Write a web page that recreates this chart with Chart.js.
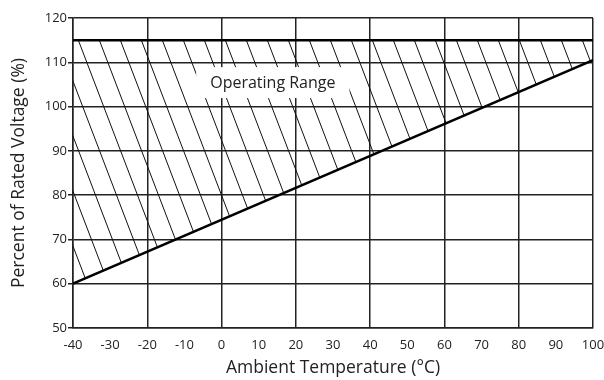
<!DOCTYPE html>
<html>
<head>
<meta charset="utf-8">
<script src="https://cdn.jsdelivr.net/npm/chart.js@4"></script>
<style>
  html, body { margin: 0; padding: 0; background: #fff; }
  #wrap { width: 604px; height: 380px; }
</style>
</head>
<body>
<div id="wrap"><canvas id="chart"></canvas></div>
<script>
// values
const temperatures = [-40, 100];      // °C, ends of both limits
const upperLimit = [115, 115];        // % rated voltage, max
const lowerLimit = [60, 110.5];       // % rated voltage, min
const xMin = -40, xMax = 100, xStep = 10, xGridStep = 20;
const yMin = 50, yMax = 120, yStep = 10;
const regionLabel = "Operating Range";

function toPoints(xs, ys) {
  return xs.map((x, i) => ({ x: x, y: ys[i] }));
}

// diagonal hatch pattern for the operating range
function makeHatch() {
  let c = document.createElement("canvas");
  c.width = 21;
  c.height = 55;
  let g = c.getContext("2d");
  g.strokeStyle = "#111";
  g.lineWidth = 1;
  g.beginPath();
  for (let k = -1; k <= 1; k++) {
    g.moveTo(k * 21, 0);
    g.lineTo(k * 21 + 21, 55);
  }
  g.stroke();
  return g.createPattern(c, "repeat");
}

// white box with the region name on top of the hatching
const labelPlugin = {
  id: "regionLabel",
  afterDatasetsDraw(chart) {
    let ctx = chart.ctx;
    let cx = chart.scales.x.getPixelForValue(13.8);
    let cy = chart.scales.y.getPixelForValue(105.3);
    ctx.save();
    ctx.font = "16px 'Open Sans'";
    let w = ctx.measureText(regionLabel).width;
    ctx.fillStyle = "#fff";
    ctx.fillRect(cx - w / 2 - 14, cy - 16, w + 28, 31);
    ctx.fillStyle = "#222";
    ctx.textAlign = "center";
    ctx.textBaseline = "middle";
    ctx.fillText(regionLabel, cx, cy);
    ctx.restore();
  },
};

let ctx = document.getElementById("chart").getContext("2d");
let chart = new Chart(ctx, {
  type: "line",
  data: {
    datasets: [
      {
        label: "Upper limit",
        data: toPoints(temperatures, upperLimit),
        borderColor: "#000",
        borderWidth: 2.5,
        pointRadius: 0,
        fill: false,
      },
      {
        label: "Lower limit",
        data: toPoints(temperatures, lowerLimit),
        borderColor: "#000",
        borderWidth: 2.5,
        pointRadius: 0,
        fill: "-1",
        backgroundColor: makeHatch(),
      },
    ],
  },
  options: {
    responsive: true,
    maintainAspectRatio: false,
    animation: false,
    layout: { padding: { top: 18, right: 11, left: 0, bottom: 0 } },
    plugins: { legend: { display: false }, tooltip: { enabled: false } },
    scales: {
      x: {
        type: "linear",
        min: xMin,
        max: xMax,
        afterFit: (s) => {
          s.height = 52;
          s.paddingLeft = 0;
          s.paddingRight = 0;
        },
        border: { color: "#222", width: 1.5 },
        grid: {
          color: (c) => (c.tick && c.tick.value % xGridStep === 0 ? "#222" : "rgba(0,0,0,0)"),
          lineWidth: 1.5,
          drawTicks: false,
        },
        ticks: {
          stepSize: xStep,
          color: "#222",
          padding: 9,
          maxRotation: 0,
          font: { family: "'Open Sans'", size: 13 },
        },
        title: {
          display: true,
          text: "Ambient Temperature (°C)",
          color: "#222",
          font: { family: "'Open Sans'", size: 17.5 },
          padding: { top: 0, bottom: 1 },
        },
      },
      y: {
        min: yMin,
        max: yMax,
        afterFit: (s) => {
          s.width = 73;
          s.paddingTop = 0;
          s.paddingBottom = 0;
        },
        border: { color: "#222", width: 1.5 },
        grid: { color: "#222", lineWidth: 1.5, tickLength: 5 },
        ticks: {
          stepSize: yStep,
          color: "#222",
          padding: 1,
          font: { family: "'Open Sans'", size: 13 },
        },
        title: {
          display: true,
          text: "Percent of Rated Voltage (%)",
          color: "#222",
          font: { family: "'Open Sans'", size: 17.5 },
          padding: { top: 9, bottom: 0 },
        },
      },
    },
  },
  plugins: [labelPlugin],
});
</script>
</body>
</html>
